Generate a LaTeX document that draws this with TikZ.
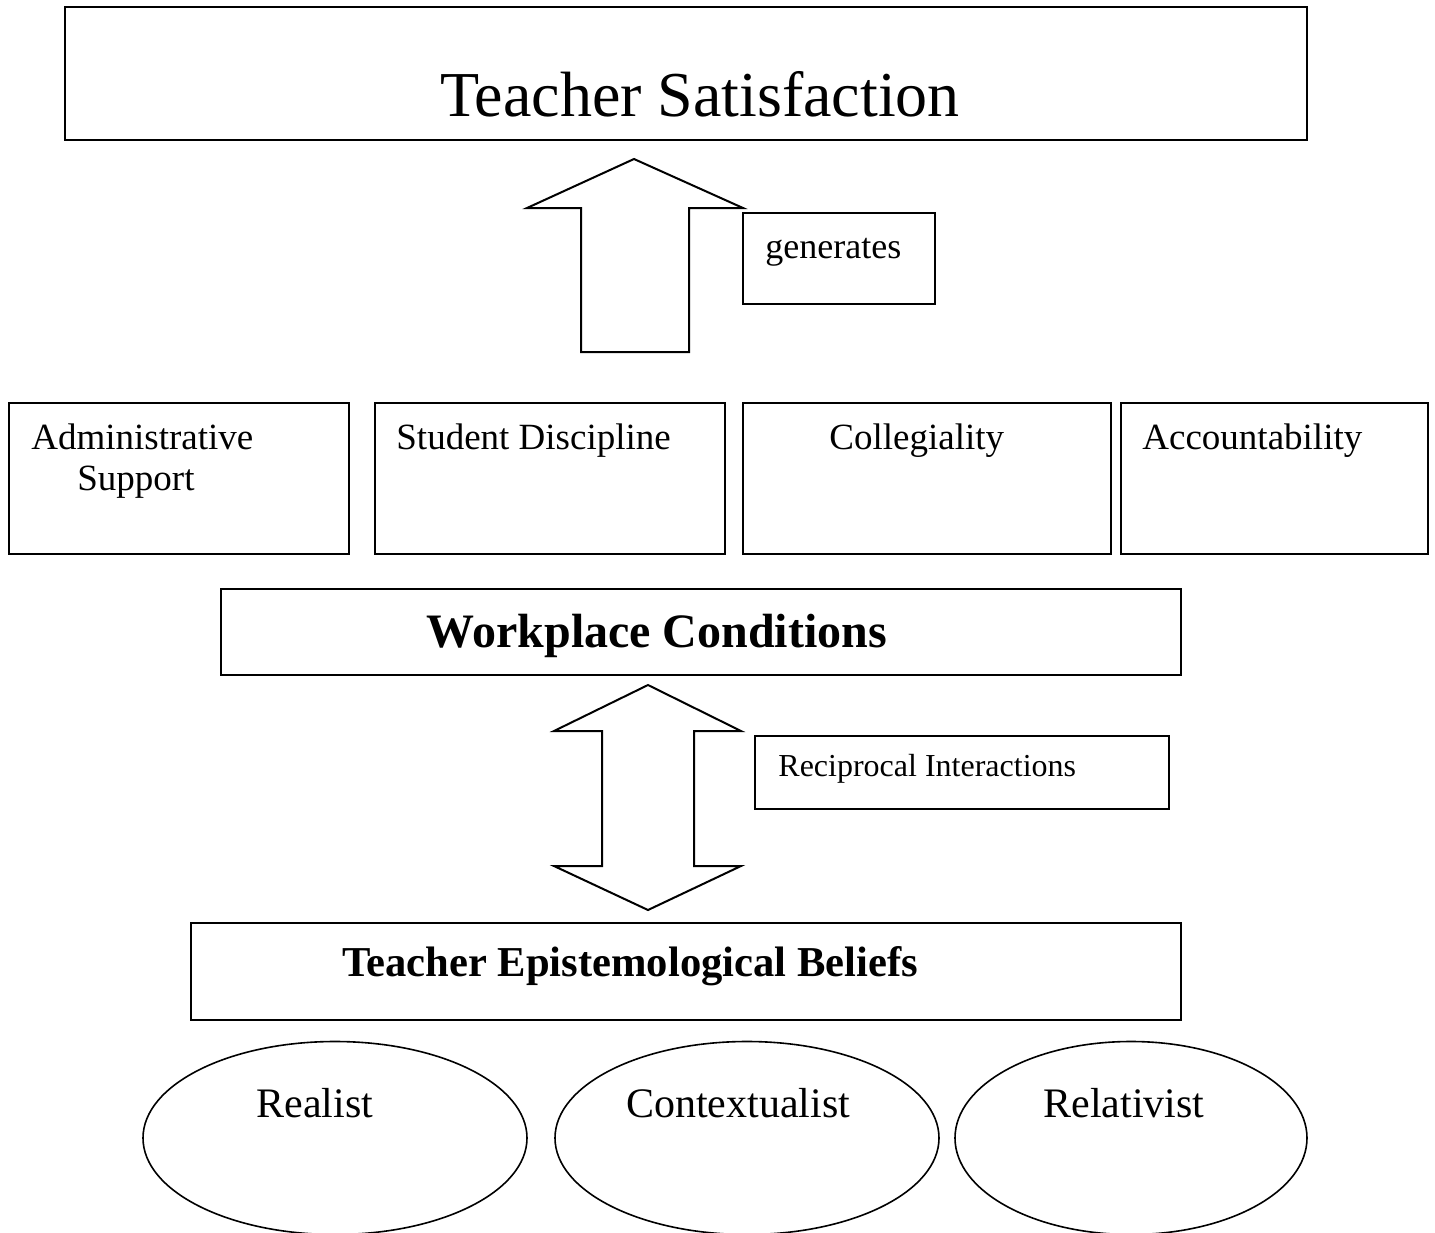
\documentclass[tikz,border=0pt]{standalone}
\usepackage{fontspec}
\setmainfont{Liberation Serif}
\usetikzlibrary{fit}
\usetikzlibrary{shapes.geometric}
\tikzset{
  box/.style= {draw, line width=1pt, inner sep=0pt},
  oval/.style= {draw, ellipse, line width=0.8pt, inner sep=0pt, minimum height=96.5pt},
  txt/.style= {inner sep=0pt, anchor=base west},
  blockarrow/.style= {draw, line width=1pt, line join=miter},
}

\begin{document}
\begin{tikzpicture}[x=0.5pt, y=-0.5pt]
  \useasboundingbox (0,0) rectangle (1435,1232) ;

  % boxes
  \node [box, fit={(65,7) (1307,140)}] (sat) {} ;
  \node [box, fit={(743,213) (935,304)}] (gen) {} ;
  \node [box, fit={(9,403) (349,554)}] (admin) {} ;
  \node [box, fit={(375,403) (725,554)}] (disc) {} ;
  \node [box, fit={(743,403) (1111,554)}] (coll) {} ;
  \node [box, fit={(1121,403) (1428,554)}] (acc) {} ;
  \node [box, fit={(221,589) (1181,675)}] (work) {} ;
  \node [box, fit={(755,736) (1169,809)}] (recip) {} ;
  \node [box, fit={(191,923) (1181,1020)}] (belief) {} ;

  % ovals
  \node [oval, minimum width=192pt] (real) at (335,1138) {} ;
  \node [oval, minimum width=192pt] (cont) at (747,1138) {} ;
  \node [oval, minimum width=176pt] (rel) at (1131,1138) {} ;

  % texts
  \node [txt, anchor=base, font=\fontsize{32}{38}\selectfont] (satlabel) at (700,116) {Teacher Satisfaction} ;
  \node [txt, font=\fontsize{18}{22}\selectfont] (genlabel) at (765,258) {generates} ;
  \node [txt, font=\fontsize{18.5}{22}\selectfont] (adminlabel) at (31,449) {Administrative} ;
  \node [txt, font=\fontsize{18.5}{22}\selectfont] (adminlabelb) at (77,490) {Support} ;
  \node [txt, font=\fontsize{18.5}{22}\selectfont] (disclabel) at (396,449) {Student Discipline} ;
  \node [txt, font=\fontsize{18.5}{22}\selectfont] (colllabel) at (829,449) {Collegiality} ;
  \node [txt, font=\fontsize{18.5}{22}\selectfont] (acclabel) at (1142,449) {Accountability} ;
  \node [txt, anchor=base, font=\fontsize{24}{29}\selectfont\bfseries] (worklabel) at (657,647) {Workplace Conditions} ;
  \node [txt, font=\fontsize{16}{19}\selectfont] (reciplabel) at (778,776) {Reciprocal Interactions} ;
  \node [txt, anchor=base, font=\fontsize{21.3}{26}\selectfont\bfseries] (belieflabel) at (630,976) {Teacher Epistemological Beliefs} ;
  \node [txt, anchor=base, font=\fontsize{21}{25}\selectfont] (reallabel) at (315,1117) {Realist} ;
  \node [txt, anchor=base, font=\fontsize{21}{25}\selectfont] (contlabel) at (738,1117) {Contextualist} ;
  \node [txt, anchor=base, font=\fontsize{21}{25}\selectfont] (rellabel) at (1124,1117) {Relativist} ;

  % block arrows
  \draw [blockarrow] (634,159) -- (743,208) -- (689,208) -- (689,352)
    -- (581,352) -- (581,208) -- (527,208) -- cycle ;
  \draw [blockarrow] (648,685) -- (741,731) -- (694,731) -- (694,866)
    -- (741,866) -- (648,910) -- (554,866) -- (602,866) -- (602,731)
    -- (554,731) -- cycle ;
\end{tikzpicture}
\end{document}
